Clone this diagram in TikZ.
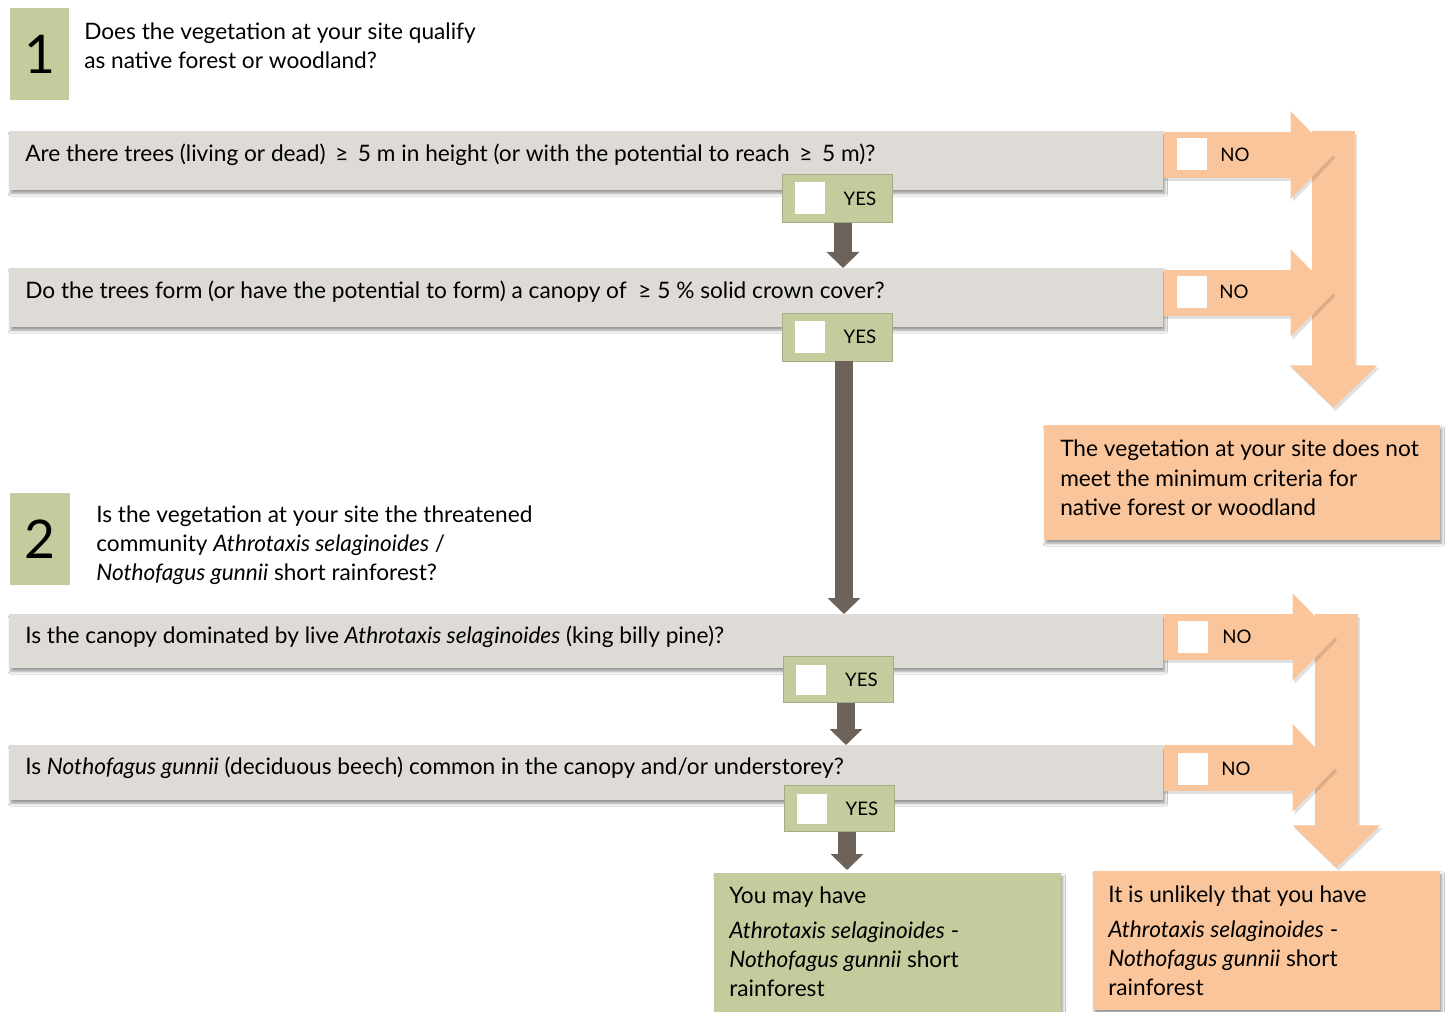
\documentclass[tikz,border=0pt]{standalone}
\usepackage{fontspec}
\setmainfont{Lato}
\usetikzlibrary{arrows.meta,shadows.blur,calc}
\definecolor{sage}{HTML}{C2CC9D}
\definecolor{sageline}{HTML}{A3AC84}
\definecolor{peach}{HTML}{FAC59A}
\definecolor{greybar}{HTML}{DEDBD6}
\definecolor{brownarr}{HTML}{6C6259}
\begin{document}
\begin{tikzpicture}[x=0.75pt,y=-0.75pt,
  shade/.style={blur shadow={shadow xshift=1.2pt,shadow yshift=-2.4pt,shadow blur steps=6,shadow opacity=40}},
  qbar/.style={shade,fill=greybar,minimum width=865.5pt,anchor=north west,inner sep=0pt},
  qtext/.style={anchor=west,inner sep=0pt,font=\fontsize{17}{20}\selectfont},
  stepbox/.style={fill=sage,anchor=north west,minimum width=44pt,minimum height=69pt,inner sep=0pt},
  stepnum/.style={font=\fontsize{40}{40}\selectfont,inner sep=0pt},
  title/.style={anchor=west,align=left,inner sep=0pt,font=\fontsize{17}{21.75}\selectfont},
  yesbox/.style={fill=sage,draw=sageline,line width=0.6pt,minimum width=82.5pt,minimum height=36pt,inner sep=0pt},
  chk/.style={fill=white,minimum width=22.5pt,minimum height=24pt,inner sep=0pt},
  lbl/.style={inner sep=0pt,font=\fontsize{14}{14}\selectfont},
  brownarrow/.style={draw=brownarr,line width=13.5pt,-{Triangle[width=24pt,length=12pt]}},
  noarrow/.style={draw=peach,line width=34.5pt,-{Triangle[width=63.75pt,length=32.25pt]}},
  downarrow/.style={draw=peach,line width=32.25pt,-{Triangle[width=63.75pt,length=32pt]}},
  noshadow/.style={draw=black,draw opacity=0.12,line width=34.5pt,-{Triangle[width=63.75pt,length=32.25pt]}},
  dshadow/.style={draw=black,draw opacity=0.12,line width=32.25pt,-{Triangle[width=63.75pt,length=32pt]}},
  result/.style={shade,anchor=north west,inner sep=0pt},
  rtext/.style={anchor=west,align=left,inner sep=0pt,font=\fontsize{17}{22.1}\selectfont}
]
\useasboundingbox[fill=white] (0,0) rectangle (1446,1012);

% ---------- section 1 ----------
\node[stepbox] (s1) at (10,8) {};
\node[stepnum] at (s1.center) {1};
\node[title] (t1) at (84,46) {Does the vegetation at your site qualify\\as native forest or woodland?};

\node[qbar,minimum height=44.25pt] (q1) at (9,131) {};
\node[qtext] at (25,155) {Are there trees (living or dead) \,≥\, 5 m in height (or with the potential to reach \,≥\, 5 m)?};
\node[qbar,minimum height=44.25pt] (q2) at (9,268) {};
\node[qtext] at (25,292) {Do the trees form (or have the potential to form) a canopy of \ ≥ 5 \% solid crown cover?};

% orange NO arrows section 1
\coordinate (v1top) at (1333.5,131);
\node[result,fill=peach,minimum width=297pt,minimum height=86.25pt] (r1) at (1044,425) {};
\draw[dshadow] ($(v1top)+(2,3)$) -- ($(r1.north -| v1top)+(2,-14)$);
\draw[downarrow] (v1top) -- ($(r1.north -| v1top)+(0,-17)$);
\coordinate (n1s) at ($(q1.north east)+(0,24)$);
\coordinate (n2s) at ($(q2.north east)+(0,25)$);
\draw[noshadow] ($(n1s)+(0,3)$) -- ($(n1s)+(172,3)$);
\draw[noarrow] (n1s) -- ++(170,0);
\draw[noshadow] ($(n2s)+(0,3)$) -- ($(n2s)+(172,3)$);
\draw[noarrow] (n2s) -- ++(170,0);
\node[chk] (nc1) at (1192,154.5) {};
\node[lbl,anchor=west] at (1220,155) {NO};
\node[chk] (nc2) at (1192,292) {};
\node[lbl,anchor=west] at (1219,292) {NO};

\node[rtext] at (1060,478) {The vegetation at your site does not\\meet the minimum criteria for\\native forest or woodland};

% YES boxes section 1
\node[yesbox] (y1) at (837,198.5) {};
\node[chk] at ($(y1.west)+(28,0)$) {};
\node[lbl] at ($(y1.center)+(23,0)$) {YES};
\node[yesbox] (y2) at (837,337) {};
\node[chk] at ($(y2.west)+(28,0)$) {};
\node[lbl] at ($(y2.center)+(23,0)$) {YES};

\draw[brownarrow] ($(y1.south)+(6,0)$) -- ($(q2.north)!(y1.south)!(q2.north east)+(6,0)$);

% ---------- section 2 ----------
\node[stepbox,minimum width=45pt] (s2) at (10,493) {};
\node[stepnum] at (s2.center) {2};
\node[title] (t2) at (96,545) {Is the vegetation at your site the threatened\\community \textit{Athrotaxis selaginoides} /\\\textit{Nothofagus gunnii} short rainforest?};

\node[qbar,minimum height=40.5pt] (q3) at (9,614) {};
\node[qtext] at (25,637) {Is the canopy dominated by live \textit{Athrotaxis selaginoides} (king billy pine)?};
\node[qbar,minimum height=41.25pt] (q4) at (9,745) {};
\node[qtext] at (25,768) {Is \textit{Nothofagus gunnii} (deciduous beech) common in the canopy and/or understorey?};

\draw[brownarrow] ($(y2.south)+(7,0)$) -- ($(q3.north)!(y2.south)!(q3.north east)+(7,0)$);

% orange NO arrows section 2
\coordinate (v2top) at (1336.5,614);
\node[result,fill=peach,minimum width=260.25pt,minimum height=104.25pt] (r2) at (1093,871) {};
\draw[dshadow] ($(v2top)+(2,3)$) -- ($(r2.north -| v2top)+(2,0)$);
\draw[downarrow] (v2top) -- ($(r2.north -| v2top)+(0,-3)$);
\coordinate (n3s) at ($(q3.north east)+(0,23)$);
\coordinate (n4s) at ($(q4.north east)+(0,23)$);
\draw[noshadow] ($(n3s)+(0,3)$) -- ($(n3s)+(174,3)$);
\draw[noarrow] (n3s) -- ++(172,0);
\draw[noshadow] ($(n4s)+(0,3)$) -- ($(n4s)+(174,3)$);
\draw[noarrow] (n4s) -- ++(172,0);
\node[chk] (nc3) at (1193,637) {};
\node[lbl,anchor=west] at (1222,637) {NO};
\node[chk] (nc4) at (1193,769) {};
\node[lbl,anchor=west] at (1221,769) {NO};

% YES boxes section 2
\node[yesbox,minimum height=34pt] (y3) at (838.5,679.5) {};
\node[chk,minimum height=22.5pt] at ($(y3.west)+(28,0)$) {};
\node[lbl] at ($(y3.center)+(23,0)$) {YES};
\node[yesbox,minimum height=35pt] (y4) at (839,808.5) {};
\node[chk,minimum height=22.5pt] at ($(y4.west)+(28,0)$) {};
\node[lbl] at ($(y4.center)+(23,0)$) {YES};

\draw[brownarrow] ($(y3.south)+(7.5,0)$) -- ($(q4.north)!(y3.south)!(q4.north east)+(7.5,0)$);

% results
\node[result,fill=sage,minimum width=260.25pt,minimum height=104.25pt] (g) at (714,873) {};
\draw[brownarrow] ($(y4.south)+(8,0)$) -- ($(g.north)!(y4.south)!(g.north east)+(8,-3)$);

\node[rtext] at (729,942) {You may have\\[3.75pt]\textit{Athrotaxis selaginoides} -\\\textit{Nothofagus gunnii} short\\rainforest};
\node[rtext] at (1108,941) {It is unlikely that you have\\[3.75pt]\textit{Athrotaxis selaginoides} -\\\textit{Nothofagus gunnii} short\\rainforest};
\end{tikzpicture}
\end{document}
